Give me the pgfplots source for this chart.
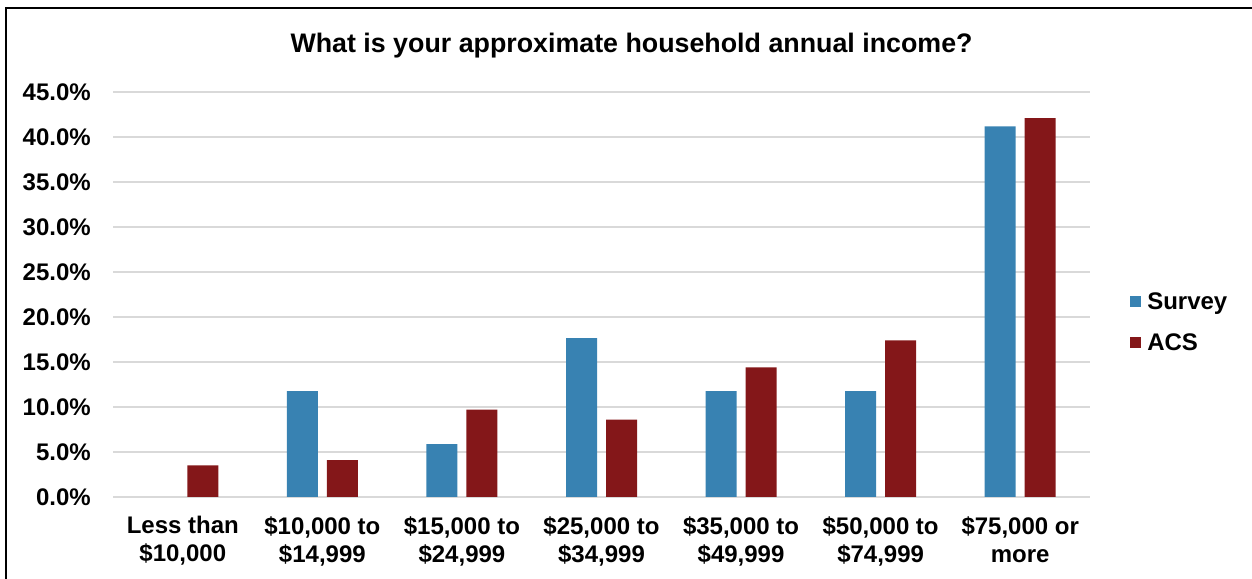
\documentclass[border=0pt]{standalone}
\usepackage{pgfplots}
\pgfplotsset{compat=1.18}
\usepackage{fontspec}
\setmainfont{Liberation Sans}
\definecolor{survey}{RGB}{56,130,178}
\definecolor{acs}{RGB}{132,23,25}
\definecolor{gridgray}{RGB}{217,217,217}
\begin{document}
\begin{tikzpicture}
\useasboundingbox (0,0) rectangle (1252bp,579bp);
\draw[black,line width=2bp] (6bp,0) -- (6bp,571bp) -- (1252bp,571bp);
\node[anchor=base,font=\fontsize{26.8bp}{30bp}\selectfont\bfseries] at (631.5bp,526bp) {What is your approximate household annual income?};
\begin{axis}[
  at={(113bp,82bp)}, anchor=south west,
  scale only axis, width=977bp, height=405bp,
  xmin=-0.5, xmax=6.5, ymin=0, ymax=45,
  ybar=9bp, bar width=31bp,
  axis line style={draw=none},
  major tick length=0pt,
  ymajorgrids, grid style={gridgray,line width=1.5bp},
  ytick={0,5,...,45},
  /pgf/number format/assume math mode=true,
  yticklabel={\pgfmathprintnumber[fixed,fixed zerofill,precision=1]{\tick}\%},
  yticklabel style={anchor=east,inner sep=0pt,xshift=-22bp,font=\fontsize{24bp}{28bp}\selectfont\bfseries},
  xtick={0,...,6},
  xticklabels={{Less than\\\$10,000}, {\$10,000 to\\\$14,999}, {\$15,000 to\\\$24,999}, {\$25,000 to\\\$34,999}, {\$35,000 to\\\$49,999}, {\$50,000 to\\\$74,999}, {\$75,000 or\\more}},
  xticklabel style={anchor=north,inner sep=0pt,yshift=-19bp,align=center,font=\fontsize{24bp}{28bp}\selectfont\bfseries},
  legend style={at={(1.041,0.432)},anchor=west,draw=none,fill=none,
    font=\fontsize{24bp}{28bp}\selectfont\bfseries,row sep=19bp,inner sep=0pt,
    nodes={inner sep=2bp},
    /tikz/every odd column/.style={column sep=4bp}},
  legend cell align=left,
  legend image code/.code={\fill[#1] (0bp,-5.5bp) rectangle (11bp,5.5bp);},
]
\addplot[fill=survey,draw=none] coordinates {(1,11.76) (2,5.88) (3,17.65) (4,11.76) (5,11.76) (6,41.18)};
\addplot[fill=acs,draw=none] coordinates {(0,3.5) (1,4.1) (2,9.7) (3,8.6) (4,14.4) (5,17.4) (6,42.1)};
\legend{Survey,ACS}
\end{axis}
\end{tikzpicture}
\end{document}
